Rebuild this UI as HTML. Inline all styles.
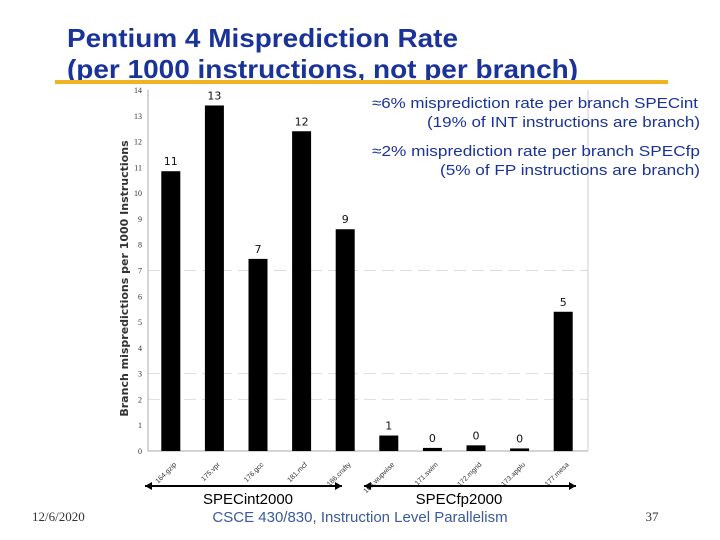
<!DOCTYPE html>
<html><head><meta charset="utf-8"><style>
body{margin:0;background:#fff;width:720px;height:540px;overflow:hidden;font-family:"Liberation Sans",sans-serif}
svg{display:block}
</style></head><body>
<svg width="720" height="540">
<g fill="#1a3399" font-weight="bold" font-size="26">
<text x="67" y="47" textLength="391" lengthAdjust="spacingAndGlyphs">Pentium 4 Misprediction Rate</text>
<text x="67" y="78" textLength="511" lengthAdjust="spacingAndGlyphs">(per 1000 instructions, not per branch)</text>
</g>
<rect x="55" y="80" width="613" height="4" fill="#f0b323"/>
<g id="chart"></g>
<g fill="#1a3399" font-size="15" text-anchor="end">
<text x="698" y="108" textLength="326" lengthAdjust="spacingAndGlyphs">≈6% misprediction rate per branch SPECint</text>
<text x="700" y="127" textLength="273" lengthAdjust="spacingAndGlyphs">(19% of INT instructions are branch)</text>
<text x="700" y="156" textLength="328" lengthAdjust="spacingAndGlyphs">≈2% misprediction rate per branch SPECfp</text>
<text x="700" y="175" textLength="260" lengthAdjust="spacingAndGlyphs">(5% of FP instructions are branch)</text>
</g>
<text x="32" y="521" font-family="Liberation Serif,serif" font-size="13" fill="#333">12/6/2020</text>
<text x="360" y="522" text-anchor="middle" font-size="15" fill="#3a5a9a">CSCE 430/830, Instruction Level Parallelism</text>
<text x="652" y="521" text-anchor="middle" font-family="Liberation Serif,serif" font-size="13" fill="#333">37</text>
</svg>
<script>
const categories=["164.gzip","175.vpr","176.gcc","181.mcf","186.crafty","168.wupwise","171.swim","172.mgrid","173.applu","177.mesa"];
const values=[10.85,13.4,7.45,12.4,8.6,0.6,0.12,0.22,0.1,5.4];
const printed=["11","13","7","12","9","1","0","0","0","5"];
const yTicks=[0,1,2,3,4,5,6,7,8,9,10,11,12,13,14];
const gridVals=[2,3,7];
const NS="http://www.w3.org/2000/svg";
const g=document.getElementById('chart');
const x0=148,x1=588,yb=451,yt=90,ymax=14;
const y=v=>yb-(yb-yt)*v/ymax;
const step=(x1-x0-4)/categories.length;
const xc=i=>x0+step*(i+0.5)+1;
function mk(t,a,txt){const e=document.createElementNS(NS,t);for(const k in a)e.setAttribute(k,a[k]);if(txt!==undefined)e.textContent=txt;g.appendChild(e);return e;}
gridVals.forEach(v=>{const e=mk('line',{x1:x0,x2:x1,y1:y(v),y2:y(v),stroke:'#ddd','stroke-dasharray':'12 6'});

});
const ax=mk('line',{x1:x0,x2:x0,y1:yt,y2:yb,stroke:'#aaa'});


const bx=mk('line',{x1:x0,x2:x1,y1:yb,y2:yb,stroke:'#aaa'});


const rf=mk('line',{x1:x1,x2:x1,y1:yt,y2:yb,stroke:'#ccc'});


yTicks.forEach(v=>{const t=mk('text',{x:x0-6,y:y(v)+3,'text-anchor':'end','font-family':'Liberation Serif,serif','font-size':8,fill:'#333'},v);

});
const yt2=mk('text',{x:0,y:0,transform:`translate(128,${(yt+yb)/2+8}) rotate(-90)`,'text-anchor':'middle','font-family':'DejaVu Sans,sans-serif','font-weight':'bold','font-size':11,fill:'#333'},'Branch mispredictions per 1000 Instructions');


categories.forEach((c,i)=>{
 const cx=xc(i),top=y(values[i]);
 const r=mk('rect',{x:cx-9.5,y:top,width:19,height:yb-top,fill:'#000'});
 
 
 const l=mk('text',{x:cx,y:top-6,'text-anchor':'middle','font-family':'DejaVu Sans,sans-serif','font-size':11,fill:'#111'},printed[i]);
 
 
 const xl=mk('text',{x:0,y:0,transform:`translate(${cx+6},${yb+14}) rotate(-45)`,'text-anchor':'end','font-size':7,fill:'#333'},c);
 
 
});
function arrow(xa,xb,name,label,lx){
 const l=mk('line',{x1:xa,x2:xb,y1:486,y2:486,stroke:'#000','stroke-width':2});
 
 
 mk('polygon',{points:`${xa},486 ${xa+7},482 ${xa+7},490`,fill:'#000'});
 mk('polygon',{points:`${xb},486 ${xb-7},482 ${xb-7},490`,fill:'#000'});
 const t=mk('text',{x:lx,y:504,'text-anchor':'middle','font-size':15,fill:'#000'},label);
 
 
}
arrow(145,342,'specint-range','SPECint2000',248);
arrow(364,576,'specfp-range','SPECfp2000',459);
</script>
</body></html>
